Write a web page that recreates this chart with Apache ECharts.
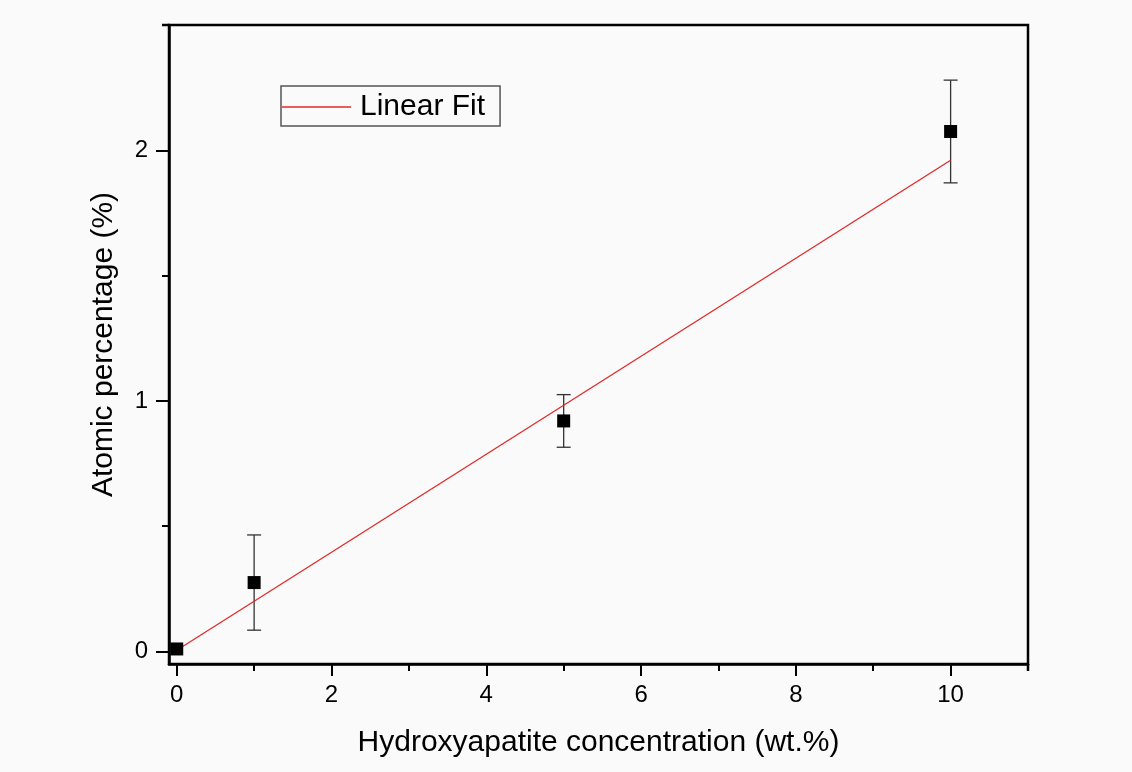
<!DOCTYPE html>
<html>
<head>
<meta charset="utf-8">
<script src="https://cdn.jsdelivr.net/npm/echarts@6/dist/echarts.min.js"></script>
<style>
  html, body { margin: 0; padding: 0; background: #fafafa; }
  #chart { width: 1132px; height: 772px; }
</style>
</head>
<body>
<div id="chart"></div>
<script>
// Measured samples: HA concentration (wt.%) vs atomic percentage (%)
const concentration = [0, 1, 5, 10];
const atomicPct = [0.01, 0.275, 0.92, 2.075];
const atomicErr = [0, 0.19, 0.105, 0.205];

// Linear fit end points
const fitX = [0, 10];
const fitY = [0.005, 1.96];

// Axis ticks
const xTickLabels = [0, 2, 4, 6, 8, 10];
const xMinorTicks = [1, 3, 5, 7, 9];
const yTickLabels = [0, 1, 2];
const yMinorTicks = [0.5, 1.5];

const FONT = "'Liberation Sans', Arial, sans-serif";
const X_MIN = -0.1, X_MAX = 11;
const Y_MIN = -0.05, Y_MAX = 2.5;

const chart = echarts.init(document.getElementById('chart'), null, { renderer: 'canvas' });

const pointData = concentration.map((x, i) => [x, atomicPct[i]]);
const errData = concentration.map((x, i) => [x, atomicPct[i] - atomicErr[i], atomicPct[i] + atomicErr[i]]);
const fitData = fitX.map((x, i) => [x, fitY[i]]);

chart.setOption({
  backgroundColor: '#fafafa',
  animation: false,
  textStyle: { fontFamily: FONT },
  grid: {
    left: 169, top: 25, right: 104, bottom: 108,
    show: true, borderColor: '#000', borderWidth: 2.5, backgroundColor: 'transparent'
  },
  legend: {
    left: 281, top: 86,
    padding: [4, 15, 2, 1],
    borderColor: '#555', borderWidth: 1.5,
    itemWidth: 69, itemHeight: 1.5,
    data: [{ name: 'Linear Fit', icon: 'rect' }],
    textStyle: { fontFamily: FONT, fontSize: 30, color: '#000', lineHeight: 32, padding: [2, 0, 0, 4] }
  },
  xAxis: [
    {
      type: 'value', min: X_MIN, max: X_MAX, position: 'bottom',
      name: 'Hydroxyapatite concentration (wt.%)',
      nameLocation: 'middle', nameGap: 64,
      nameTextStyle: { fontFamily: FONT, fontSize: 30, color: '#000' },
      axisLine: { show: true, onZero: false, lineStyle: { color: '#000', width: 2.5 } },
      axisTick: { show: true, customValues: xTickLabels, length: 12, lineStyle: { color: '#000', width: 2 } },
      axisLabel: {
        show: true, customValues: xTickLabels, margin: 19,
        fontFamily: FONT, fontSize: 24, color: '#000'
      },
      splitLine: { show: false }
    },
    {
      type: 'value', min: X_MIN, max: X_MAX, position: 'bottom', gridIndex: 0,
      axisLine: { show: false, onZero: false },
      axisTick: { show: true, customValues: xMinorTicks, length: 7, lineStyle: { color: '#000', width: 2 } },
      axisLabel: { show: false },
      splitLine: { show: false }
    }
  ],
  yAxis: [
    {
      type: 'value', min: Y_MIN, max: Y_MAX, position: 'left',
      name: 'Atomic percentage (%)',
      nameLocation: 'middle', nameGap: 50, nameRotate: 90,
      nameTextStyle: { fontFamily: FONT, fontSize: 30, color: '#000' },
      axisLine: { show: true, onZero: false, lineStyle: { color: '#000', width: 2.5 } },
      axisTick: { show: true, customValues: yTickLabels, length: 13, lineStyle: { color: '#000', width: 2 } },
      axisLabel: {
        show: true, customValues: yTickLabels, margin: 21,
        fontFamily: FONT, fontSize: 24, color: '#000'
      },
      splitLine: { show: false }
    },
    {
      type: 'value', min: Y_MIN, max: Y_MAX, position: 'left', gridIndex: 0,
      axisLine: { show: false, onZero: false },
      axisTick: { show: true, customValues: yMinorTicks, length: 7, lineStyle: { color: '#000', width: 2 } },
      axisLabel: { show: false },
      splitLine: { show: false }
    }
  ],
  series: [
    {
      name: 'Linear Fit',
      type: 'line',
      xAxisIndex: 0, yAxisIndex: 0,
      data: fitData,
      symbol: 'none',
      lineStyle: { color: '#e02a2a', width: 1.3 },
      itemStyle: { color: '#e02a2a' },
      z: 3
    },
    {
      name: 'Error',
      type: 'custom',
      xAxisIndex: 0, yAxisIndex: 0,
      data: errData,
      renderItem: function (params, api) {
        const x = api.value(0);
        const lo = api.coord([x, api.value(1)]);
        const hi = api.coord([x, api.value(2)]);
        if (Math.abs(hi[1] - lo[1]) < 1) return null;
        const cap = 7;
        const style = { stroke: '#333', lineWidth: 1.3, fill: null };
        return {
          type: 'group',
          children: [
            { type: 'line', shape: { x1: lo[0], y1: lo[1], x2: hi[0], y2: hi[1] }, style },
            { type: 'line', shape: { x1: lo[0] - cap, y1: lo[1], x2: lo[0] + cap, y2: lo[1] }, style },
            { type: 'line', shape: { x1: hi[0] - cap, y1: hi[1], x2: hi[0] + cap, y2: hi[1] }, style }
          ]
        };
      },
      z: 2
    },
    {
      name: 'Atomic percentage',
      type: 'scatter',
      xAxisIndex: 0, yAxisIndex: 0,
      data: pointData,
      symbol: 'rect',
      symbolSize: 13,
      itemStyle: { color: '#000', opacity: 1 },
      emphasis: { disabled: true },
      z: 4
    }
  ]
});

// Frame corners: the top border runs a little past the left axis,
// and the right border a little below the bottom axis.
const topLeft = chart.convertToPixel({ gridIndex: 0 }, [X_MIN, Y_MAX]);
const bottomRight = chart.convertToPixel({ gridIndex: 0 }, [X_MAX, Y_MIN]);
chart.setOption({
  graphic: [
    { type: 'line', shape: { x1: topLeft[0] - 7, y1: topLeft[1], x2: topLeft[0], y2: topLeft[1] },
      style: { stroke: '#000', lineWidth: 2.5 }, silent: true },
    { type: 'line', shape: { x1: bottomRight[0], y1: bottomRight[1], x2: bottomRight[0], y2: bottomRight[1] + 7 },
      style: { stroke: '#000', lineWidth: 2.5 }, silent: true }
  ]
});
</script>
</body>
</html>
